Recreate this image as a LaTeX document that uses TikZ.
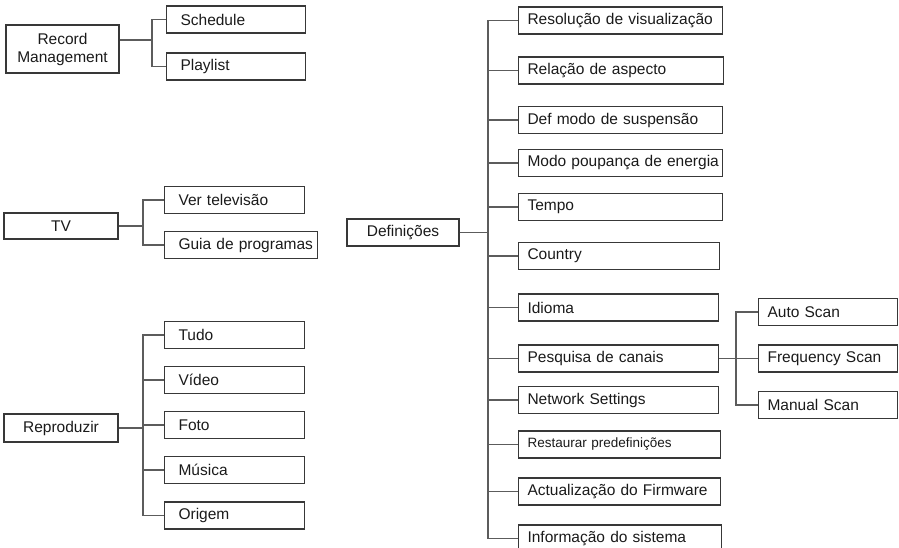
\documentclass[tikz,border=0pt]{standalone}
\usepackage{fontspec}
\setmainfont{Liberation Sans}
\usepackage{tikz}
\usetikzlibrary{positioning,calc}

\definecolor{boxline}{HTML}{383838}
\definecolor{wire}{HTML}{5C5C5C}
\definecolor{ink}{HTML}{1A1A1A}

\begin{document}
\begin{tikzpicture}[x=1pt, y=-1pt,
  kidpad/.store in=\kidpad, kidpad=6pt,
  parent/.style={rectangle, draw=boxline, line width=1.1pt, minimum width=113pt, minimum height=27pt, inner sep=0pt, align=center, text=ink, font=\fontsize{15.5}{18}\selectfont},
  kid/.style={rectangle, draw=boxline, line width=1.1pt, anchor=west, minimum height=27pt, inner xsep=3pt, inner ysep=0pt, text width=#1, align=left, text=ink, font=\fontsize{15.5}{18}\selectfont, execute at begin node={\hspace*{\kidpad}}},
  wire/.style={draw=wire, line width=1.2pt}
]
  \clip (0,0) rectangle (899,548);

  % Record Management
  \node[parent, minimum height=48pt] (rec) at (62.5,49) {Record\\Management};
  \node[kid=133pt, kidpad=11pt] (sched) at (166,19.5) {Schedule};
  \node[kid=133pt, kidpad=11pt] (play) at (166,66.5) {Playlist};
  \coordinate (recbus) at (152,0);
  \draw[wire] ([yshift=9pt]rec.east) -- ([yshift=9pt]rec.east -| recbus);
  \draw[wire] (sched.west) -- (sched.west -| recbus) |- (play.west);

  % TV
  \node[parent, minimum width=114pt, minimum height=26pt] (tv) at (61,226) {TV};
  \node[kid=134pt, kidpad=11pt] (ver) at (164,200) {Ver televisão};
  \node[kid=147pt, kidpad=11pt] (guia) at (164,245) {Guia de programas};
  \coordinate (tvbus) at (143,0);
  \draw[wire] (tv.east) -- (tv.east -| tvbus);
  \draw[wire] (ver.west) -- (ver.west -| tvbus) |- (guia.west);

  % Reproduzir
  \node[parent, minimum width=114pt, minimum height=28pt] (rep) at (61,428) {Reproduzir};
  \node[kid=134pt, kidpad=11pt] (tudo) at (164,335) {Tudo};
  \node[kid=134pt, kidpad=11pt] (video) at (164,380) {Vídeo};
  \node[kid=134pt, kidpad=11pt] (foto) at (164,425) {Foto};
  \node[kid=134pt, kidpad=11pt] (musica) at (164,470) {Música};
  \node[kid=134pt, kidpad=11pt] (origem) at (164,515.5) {Origem};
  \coordinate (repbus) at (143,0);
  \draw[wire] (rep.east) -- (rep.east -| repbus);
  \draw[wire] (tudo.west) -- (tudo.west -| repbus) |- (origem.west);
  \foreach \n in {video, foto, musica}
    \draw[wire] (\n.west) -- (\n.west -| repbus);

  % Definicoes
  \node[parent, minimum width=112pt] (def) at (403,232.5) {Definições};
  \node[kid=198pt] (res) at (518,20.5) {Resolução de visualização};
  \node[kid=199pt] (rel) at (518,70.5) {Relação de aspecto};
  \node[kid=198pt] (susp) at (518,120) {Def modo de suspensão};
  \node[kid=198pt] (poup) at (518,163) {Modo poupança de energia};
  \node[kid=198pt] (tempo) at (518,207) {Tempo};
  \node[kid=195pt] (country) at (518,256) {Country};
  \node[kid=194pt] (idioma) at (518,307.5) {Idioma};
  \node[kid=194pt] (pesq) at (518,358.5) {Pesquisa de canais};
  \node[kid=194pt] (net) at (518,400) {Network Settings};
  \node[kid=196pt, font=\fontsize{13.5}{16}\selectfont] (rest) at (518,444.5) {Restaurar predefinições};
  \node[kid=196pt] (actual) at (518,491.5) {Actualização do Firmware};
  \node[kid=197pt] (info) at (518,538.5) {Informação do sistema};
  \coordinate (defbus) at (488,0);
  \draw[wire] (def.east) -- (def.east -| defbus);
  \draw[wire] (res.west) -- (res.west -| defbus) |- (info.west);
  \foreach \n in {rel, susp, poup, tempo, country, idioma, pesq, net, rest, actual}
    \draw[wire] (\n.west) -- (\n.west -| defbus);

  % Pesquisa de canais
  \node[kid=133pt] (auto) at (758,312) {Auto Scan};
  \node[kid=133pt] (freq) at (758,358.5) {Frequency Scan};
  \node[kid=133pt] (manual) at (758,405) {Manual Scan};
  \coordinate (scanbus) at (736,0);
  \draw[wire] (pesq.east) -- (freq.west);
  \draw[wire] (auto.west) -- (auto.west -| scanbus) |- (manual.west);
\end{tikzpicture}
\end{document}
